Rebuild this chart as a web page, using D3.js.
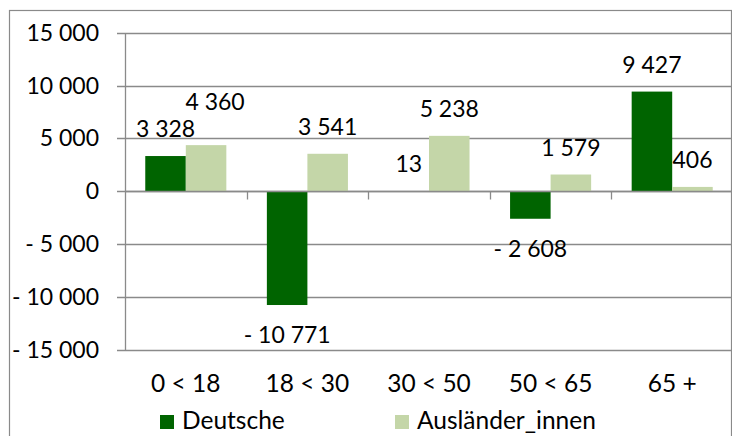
<!DOCTYPE html>
<html>
<head>
<meta charset="utf-8">
<script src="https://cdn.jsdelivr.net/npm/d3@7"></script>
<style>
  html, body { margin: 0; padding: 0; background: #fff; }
  svg { display: block; }
  text { font-family: Lato, "Open Sans", sans-serif; fill: #000; }
</style>
</head>
<body>
<svg id="chart" width="732" height="436"></svg>
<script>
// ---- data ----
const categories = ["0 < 18", "18 < 30", "30 < 50", "50 < 65", "65 +"];
const seriesNames = ["Deutsche", "Ausländer_innen"];
const deutsche = [3328, -10771, 13, -2608, 9427];
const auslaender = [4360, 3541, 5238, 1579, 406];
const yTicks = [-15000, -10000, -5000, 0, 5000, 10000, 15000];

// ---- styling ----
const colors = { "Deutsche": "#006400", "Ausländer_innen": "#c4d6a8" };
const gridColor = "#8a8a8a";
const numSize = 23;
const wordSize = 24.5;

const svg = d3.select("#chart");

// outer border
svg.append("rect")
  .attr("x", 9.5).attr("y", 10.5)
  .attr("width", 722).attr("height", 440)
  .attr("fill", "none").attr("stroke", gridColor).attr("stroke-width", 1.2);

const plot = { left: 125, right: 733, top: 32.7, bottom: 349.7 };

const y = d3.scaleLinear().domain([-15000, 15000]).range([plot.bottom, plot.top]);
const x0 = d3.scaleBand().domain(categories).range([plot.left, plot.right]).padding(0);
const x1 = d3.scaleBand().domain(seriesNames).range([0, x0.bandwidth()])
  .paddingInner(0).paddingOuter(0.5);

const locale = d3.formatLocale({ decimal: ",", thousands: " ", grouping: [3], currency: ["", "€"] });
const fmt0 = locale.format(",d");
const fmt = v => v < 0 ? "- " + fmt0(-v) : fmt0(v);

// gridlines
svg.append("g").selectAll("line").data(yTicks).join("line")
  .attr("x1", plot.left - 8).attr("x2", plot.right)
  .attr("y1", d => Math.round(y(d)) + 0.5).attr("y2", d => Math.round(y(d)) + 0.5)
  .attr("stroke", gridColor).attr("stroke-width", 1.3);

// y axis line
svg.append("line")
  .attr("x1", plot.left + 0.5).attr("x2", plot.left + 0.5)
  .attr("y1", Math.round(plot.top)).attr("y2", Math.round(plot.bottom) + 1)
  .attr("stroke", gridColor).attr("stroke-width", 1.3);

// y tick labels
svg.append("g").selectAll("text").data(yTicks).join("text")
  .attr("x", 99).attr("y", d => y(d) + 8)
  .attr("text-anchor", "end")
  .style("font-size", numSize + "px")
  .text(d => fmt(d));

// bars
const rows = categories.map((c, i) => ({
  cat: c,
  vals: [
    { name: "Deutsche", value: deutsche[i] },
    { name: "Ausländer_innen", value: auslaender[i] }
  ]
}));

const g = svg.append("g").selectAll("g").data(rows).join("g")
  .attr("transform", d => `translate(${x0(d.cat)},0)`);

g.selectAll("rect").data(d => d.vals).join("rect")
  .attr("x", d => x1(d.name))
  .attr("width", x1.bandwidth())
  .attr("y", d => Math.min(y(d.value), y(0)))
  .attr("height", d => Math.abs(y(d.value) - y(0)))
  .attr("fill", d => colors[d.name]);

// category axis (zero line) with ticks between categories
const zeroY = Math.round(y(0)) + 0.5;
svg.append("line")
  .attr("x1", plot.left).attr("x2", plot.right)
  .attr("y1", zeroY).attr("y2", zeroY)
  .attr("stroke", gridColor).attr("stroke-width", 1.3);
svg.append("g").selectAll("line").data(categories.slice(1)).join("line")
  .attr("x1", d => Math.round(x0(d)) + 0.5).attr("x2", d => Math.round(x0(d)) + 0.5)
  .attr("y1", zeroY).attr("y2", zeroY + 8)
  .attr("stroke", gridColor).attr("stroke-width", 1.3);

// data labels (one manually nudged label to avoid overlap, as in the original)
const nudge = { "0 < 18|Ausländer_innen": [9, -16] };
g.selectAll("text.lbl").data(d => d.vals.map(v => ({ ...v, cat: d.cat }))).join("text")
  .attr("class", "lbl")
  .attr("text-anchor", "middle")
  .style("font-size", numSize + "px")
  .attr("x", d => x1(d.name) + x1.bandwidth() / 2 + ((nudge[d.cat + "|" + d.name] || [0, 0])[0]))
  .attr("y", d => (d.value >= 0 ? y(d.value) - 19 : y(d.value) + 38) + ((nudge[d.cat + "|" + d.name] || [0, 0])[1]))
  .text(d => fmt(d.value));

// category labels
svg.append("g").selectAll("text").data(categories).join("text")
  .attr("x", d => x0(d) + x0.bandwidth() / 2)
  .attr("y", 392)
  .attr("text-anchor", "middle")
  .style("font-size", wordSize + "px")
  .text(d => d);

// legend
const legendX = [160, 395];
const lg = svg.append("g").selectAll("g").data(seriesNames).join("g")
  .attr("transform", (d, i) => `translate(${legendX[i]},415)`);
lg.append("rect").attr("width", 14).attr("height", 14).attr("fill", d => colors[d]);
lg.append("text").attr("x", 22).attr("y", 14)
  .style("font-size", wordSize + "px").text(d => d);
</script>
</body>
</html>
